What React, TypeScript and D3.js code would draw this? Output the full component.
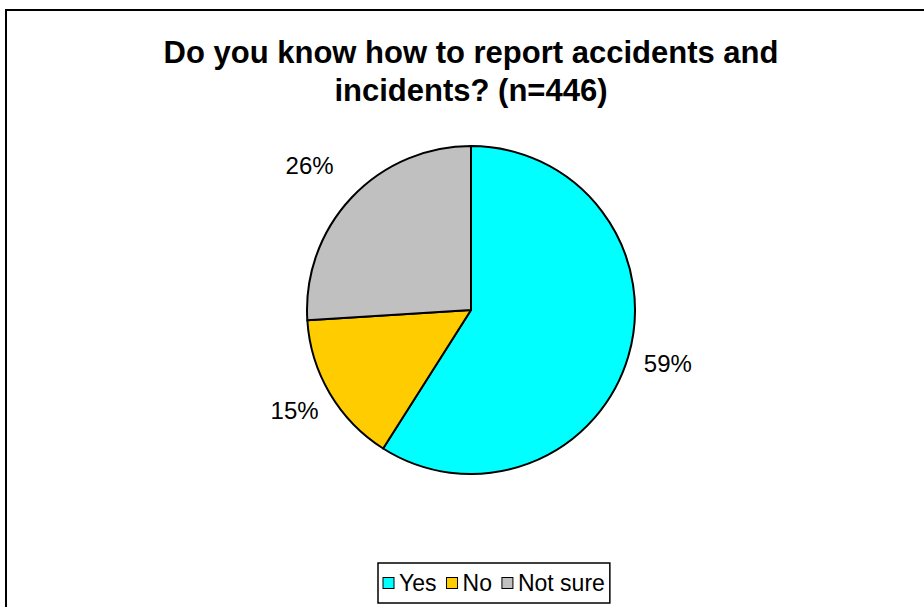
import React from "react";
import * as d3 from "d3";

const categories = ["Yes", "No", "Not sure"];
const values = [59, 15, 26];
const colors = ["#00FFFF", "#FFCC00", "#C0C0C0"];
const titleLines = ["Do you know how to report accidents and", "incidents? (n=446)"];

const font = "'Liberation Sans', Arial, sans-serif";

function measure(text: string, size: number): number {
  if (typeof document === "undefined") return text.length * size * 0.55;
  const c = document.createElement("canvas");
  const ctx = c.getContext("2d");
  if (!ctx) return text.length * size * 0.55;
  ctx.font = `${size}px ${font}`;
  return ctx.measureText(text).width;
}

export default function App() {
  const W = 924, H = 607;
  const cx = 471, cy = 310, r = 164;
  const pie = d3.pie<number>().sort(null).value((d) => d)(values);
  const arc = d3.arc<d3.PieArcDatum<number>>().innerRadius(0).outerRadius(r);
  const labelArc = d3.arc<d3.PieArcDatum<number>>().innerRadius(r * 1.25).outerRadius(r * 1.25);

  const legendFont = 23;
  const sq = 11;
  const sqGap = 5;
  const itemGap = 10;
  const widths = categories.map((c) => measure(c, legendFont));
  const offsets: number[] = [];
  let acc = 0;
  widths.forEach((w) => {
    offsets.push(acc);
    acc += sq + sqGap + w + itemGap;
  });
  const total = acc - itemGap;
  const boxW = total + 10;
  const boxX = 378;
  const legendY = 583;

  return (
    <svg width={W} height={H} style={{ position: "absolute", left: 0, top: 0 }}>
      <rect x={0} y={0} width={W} height={H} fill="#fff" />
      <rect x={6} y={10} width={W + 20} height={H + 20} fill="#fff" stroke="#000" strokeWidth={2} />
      {titleLines.map((t, i) => (
        <text key={i} x={cx} y={63 + i * 38} textAnchor="middle" fontFamily={font} fontWeight="bold" fontSize={31}>
          {t}
        </text>
      ))}
      <g transform={`translate(${cx},${cy})`}>
        {pie.map((p, i) => (
          <path key={i} d={arc(p) || ""} fill={colors[i]} stroke="#000" strokeWidth={2} strokeLinejoin="round" />
        ))}
        {pie.map((p, i) => {
          const [x, y] = labelArc.centroid(p);
          const dx = x < 0 && y < 0 ? -12 : 0;
          return (
            <text key={i} x={x + dx} y={y - 4} textAnchor="middle" dominantBaseline="central" fontFamily={font} fontSize={24}>
              {`${values[i]}%`}
            </text>
          );
        })}
      </g>
      <rect x={boxX} y={563} width={boxW} height={40} fill="#fff" stroke="#000" strokeWidth={1.5} />
      {categories.map((c, i) => (
        <g key={c} transform={`translate(${boxX + 5 + offsets[i]},${legendY})`}>
          <rect x={0} y={-sq / 2} width={sq} height={sq} fill={colors[i]} stroke="#000" strokeWidth={1} />
          <text x={sq + sqGap} y={0} dominantBaseline="central" fontFamily={font} fontSize={legendFont}>
            {c}
          </text>
        </g>
      ))}
    </svg>
  );
}
